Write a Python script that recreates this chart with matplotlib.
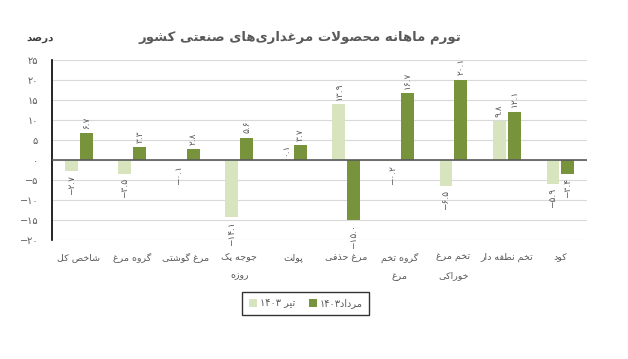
import numpy as np
import matplotlib
matplotlib.use("Agg")
import matplotlib.pyplot as plt

# data -------------------------------------------------------------------
categories = ["شاخص کل", "گروه مرغ", "مرغ گوشتی", "جوجه یک\nروزه", "پولت",
              "مرغ حذفی", "گروه تخم\nمرغ", "تخم مرغ\nخوراکی", "تخم نطفه دار", "کود"]
tir_1403 = [-2.7, -3.5, -0.1, -14.1, 0.1, 13.9, -0.2, -6.5, 9.8, -5.9]
mordad_1403 = [6.7, 3.3, 2.8, 5.6, 3.7, -15.0, 16.7, 20.1, 12.1, -3.4]
yticks = [-20, -15, -10, -5, 0, 5, 10, 15, 20, 25]

title = "تورم ماهانه محصولات مرغداری\u200cهای صنعتی کشور"
ylabel = "درصد"
legend_labels = ["تیر ۱۴۰۳", "مرداد۱۴۰۳"]

# minimal arabic/persian shaping (no arabic_reshaper available) ------------
FORMS = {
    "ا": (0xFE8D, 0xFE8E, None, None), "ب": (0xFE8F, 0xFE90, 0xFE91, 0xFE92),
    "ت": (0xFE95, 0xFE96, 0xFE97, 0xFE98), "ج": (0xFE9D, 0xFE9E, 0xFE9F, 0xFEA0),
    "ح": (0xFEA1, 0xFEA2, 0xFEA3, 0xFEA4), "خ": (0xFEA5, 0xFEA6, 0xFEA7, 0xFEA8),
    "د": (0xFEA9, 0xFEAA, None, None), "ذ": (0xFEAB, 0xFEAC, None, None),
    "ر": (0xFEAD, 0xFEAE, None, None), "ز": (0xFEAF, 0xFEB0, None, None),
    "س": (0xFEB1, 0xFEB2, 0xFEB3, 0xFEB4), "ش": (0xFEB5, 0xFEB6, 0xFEB7, 0xFEB8),
    "ص": (0xFEB9, 0xFEBA, 0xFEBB, 0xFEBC), "ط": (0xFEC1, 0xFEC2, 0xFEC3, 0xFEC4),
    "ع": (0xFEC9, 0xFECA, 0xFECB, 0xFECC), "غ": (0xFECD, 0xFECE, 0xFECF, 0xFED0),
    "ف": (0xFED1, 0xFED2, 0xFED3, 0xFED4), "ق": (0xFED5, 0xFED6, 0xFED7, 0xFED8),
    "ل": (0xFEDD, 0xFEDE, 0xFEDF, 0xFEE0), "م": (0xFEE1, 0xFEE2, 0xFEE3, 0xFEE4),
    "ن": (0xFEE5, 0xFEE6, 0xFEE7, 0xFEE8), "ه": (0xFEE9, 0xFEEA, 0xFEEB, 0xFEEC),
    "و": (0xFEED, 0xFEEE, None, None), "پ": (0xFB56, 0xFB57, 0xFB58, 0xFB59),
    "ک": (0xFB8E, 0xFB8F, 0xFB90, 0xFB91), "گ": (0xFB92, 0xFB93, 0xFB94, 0xFB95),
    "ی": (0xFBFC, 0xFBFD, 0xFBFE, 0xFBFF),
}


def joins_next(ch):
    return ch in FORMS and FORMS[ch][2] is not None


def shape(s):
    out = []
    i = 0
    n = len(s)
    while i < n:
        ch = s[i]
        if ch == "\u200c":
            i += 1
            continue
        prev = s[i - 1] if i > 0 else ""
        nxt = s[i + 1] if i + 1 < n else ""
        if ch not in FORMS:
            out.append(ch)
            i += 1
            continue
        left = joins_next(prev)
        # lam-alef ligature
        if ch == "ل" and nxt == "ا":
            out.append(chr(0xFEFC if left else 0xFEFB))
            i += 2
            continue
        right = joins_next(ch) and nxt in FORMS
        iso, fin, ini, med = FORMS[ch]
        if left and right:
            out.append(chr(med))
        elif left:
            out.append(chr(fin))
        elif right:
            out.append(chr(ini))
        else:
            out.append(chr(iso))
        i += 1
    return "".join(out)


def rtl(text):
    lines = []
    for line in text.split("\n"):
        rev = shape(line)[::-1]
        # keep digit runs in left-to-right order
        res, run = "", ""
        for ch in rev:
            if ch in "۰۱۲۳۴۵۶۷۸۹.":
                run += ch
            else:
                res += run[::-1] + ch
                run = ""
        res += run[::-1]
        lines.append(res)
    return "\n".join(lines)


def fa_num(v, fmt="{:.1f}"):
    s = fmt.format(abs(v)).translate(str.maketrans("0123456789", "۰۱۲۳۴۵۶۷۸۹"))
    return ("\u2212" + s) if v < 0 else s


# plot -------------------------------------------------------------------
light = "#d7e4bd"
dark = "#77933c"
text_c = "#595959"

fig = plt.figure(figsize=(6.28, 3.59), dpi=100)
ax = fig.add_axes([0.083, 0.331, 0.852, 0.502])

x = np.arange(len(categories))
w = 0.24
b1 = ax.bar(x - 0.14, tir_1403, w, color=light, label=rtl(legend_labels[0]), zorder=2)
b2 = ax.bar(x + 0.14, mordad_1403, w, color=dark, label=rtl(legend_labels[1]), zorder=2)

for bars, vals in ((b1, tir_1403), (b2, mordad_1403)):
    for rect, v in zip(bars, vals):
        cx = rect.get_x() + rect.get_width() / 2
        ax.annotate(fa_num(v), (cx, v), xytext=(0, 3 if v >= 0 else -3),
                    textcoords="offset points", rotation=90, ha="center",
                    va="bottom" if v >= 0 else "top", fontsize=6.5, color=text_c)

ax.set_xlim(-0.5, len(categories) - 0.5)
ax.set_ylim(-20, 25)
ax.set_yticks(yticks)
ax.set_yticklabels([fa_num(t, "{:.0f}") for t in yticks], fontsize=7, color=text_c)
ax.set_xticks(x)
ax.set_xticklabels([rtl(c) for c in categories], fontsize=6.8, color=text_c, linespacing=2.3,
                   va="top")
ax.tick_params(axis="both", length=0)
ax.tick_params(axis="x", pad=9)
ax.tick_params(axis="y", pad=10)
ax.grid(axis="y", color="#d9d9d9", linewidth=0.8, zorder=0)
ax.axhline(0, color="#595959", linewidth=1.2, zorder=3)
for side in ("top", "right", "bottom"):
    ax.spines[side].set_visible(False)
ax.spines["left"].set_color("black")
ax.spines["left"].set_linewidth(1.2)

fig.text(0.477, 0.895, rtl(title), ha="center", va="center", fontsize=9.5,
         fontweight="bold", color=text_c)
fig.text(0.064, 0.893, rtl(ylabel), ha="center", va="center", fontsize=7.5,
         fontweight="bold", color="#404040")

leg = fig.legend(loc="center", bbox_to_anchor=(0.487, 0.155), ncol=2, fontsize=7,
                 frameon=True, fancybox=False, edgecolor="black", handlelength=0.8,
                 handleheight=0.8, columnspacing=1.4, handletextpad=0.3,
                 borderpad=0.7)
leg.get_frame().set_linewidth(1.0)
for t in leg.get_texts():
    t.set_color(text_c)

fig.savefig("out.png", dpi=100)
